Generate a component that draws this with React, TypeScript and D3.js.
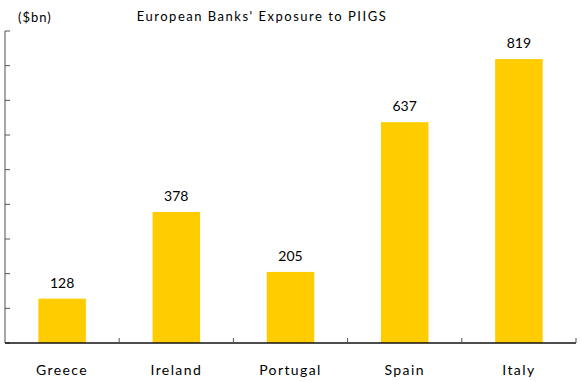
import React from "react";
import * as d3 from "d3";

const categories = ["Greece", "Ireland", "Portugal", "Spain", "Italy"];
const values = [128, 378, 205, 637, 819];
const yTicks = [0, 100, 200, 300, 400, 500, 600, 700, 800, 900];
const title = "European Banks' Exposure to PIIGS";
const unitLabel = "($bn)";

const W = 581;
const H = 381;
const left = 5;
const right = 576;
const top = 31;
const bottom = 343;
const font = "Lato, 'Open Sans', sans-serif";

export default function App() {
  const x = d3.scaleBand<string>().domain(categories).range([left, right]).paddingInner(0).paddingOuter(0);
  const y = d3.scaleLinear().domain([0, 900]).range([bottom, top]);
  const bw = x.bandwidth() * 0.416;
  const boundaries = categories.map((c) => (x(c) as number) + x.bandwidth());

  return (
    <svg width={W} height={H} style={{ position: "absolute", left: 0, top: 0, background: "#fff" }}>
      <text x={18} y={22} fontFamily={font} fontSize={13} fill="#000" letterSpacing={1}>{unitLabel}</text>
      <text x={262} y={21} textAnchor="middle" fontFamily={font} fontSize={13} fill="#000" letterSpacing={1.5}>{title}</text>
      {categories.map((c, i) => {
        const cx = (x(c) as number) + x.bandwidth() / 2;
        return (
          <g key={c}>
            <rect x={cx - bw / 2} y={y(values[i])} width={bw} height={bottom - y(values[i])} fill="#FFCC00" />
            <text x={cx} y={y(values[i]) - 11} textAnchor="middle" fontFamily={font} fontSize={14} fill="#000">{values[i]}</text>
            <text x={cx} y={375} textAnchor="middle" fontFamily={font} fontSize={14} fill="#000" letterSpacing={1.4}>{c}</text>
          </g>
        );
      })}
      <line x1={left} x2={left} y1={top} y2={bottom} stroke="#777" strokeWidth={1.3} />
      {yTicks.map((t) => (
        <line key={t} x1={left} x2={left + 5} y1={y(t)} y2={y(t)} stroke="#555" strokeWidth={1} />
      ))}
      <line x1={left} x2={right} y1={bottom} y2={bottom} stroke="#111" strokeWidth={1.3} />
      {boundaries.map((b, i) => (
        <line key={i} x1={b} x2={b} y1={bottom} y2={bottom - 5} stroke="#555" strokeWidth={1} />
      ))}
    </svg>
  );
}
